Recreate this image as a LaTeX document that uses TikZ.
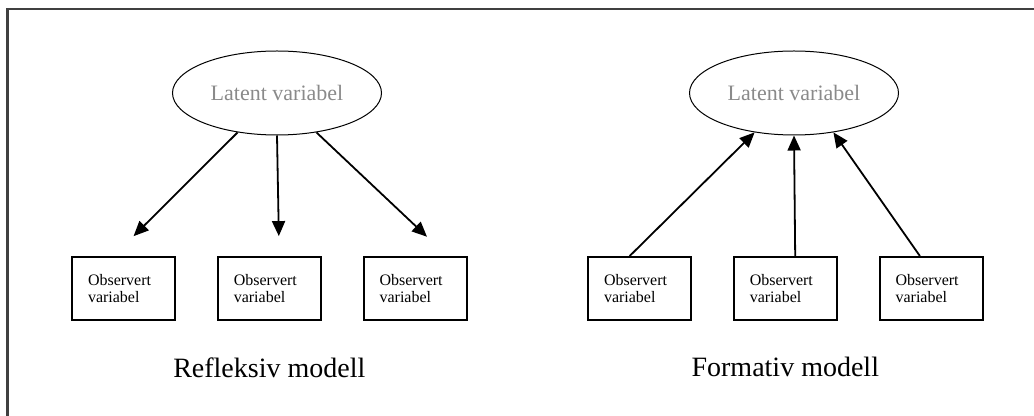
\documentclass[tikz,border=0pt]{standalone}
\usepackage{fontspec}
\setmainfont{Liberation Serif}
\usepackage{xcolor}
\usepackage{tikz}
\usetikzlibrary{positioning, arrows.meta, shapes.geometric}
\definecolor{framegray}{HTML}{404040}
\definecolor{latentgray}{HTML}{8A8A8A}
\tikzset{
  lv node/.style={
    ellipse,
    draw=black,
    line width=0.5pt,
    minimum width=104.5pt,
    minimum height=42pt,
    inner sep=0pt,
    font=\fontsize{11}{13}\selectfont,
    text=latentgray
  },
  mv box/.style={
    rectangle,
    draw=black,
    line width=0.9pt,
    minimum width=51.5pt,
    minimum height=31.5pt,
    text width=35.5pt,
    inner xsep=8pt,
    inner ysep=0pt,
    align=left,
    font=\fontsize{8}{8.5}\selectfont
  },
  lv arrow/.style={
    -{Triangle[length=7.5pt, width=6.5pt]},
    line width=0.9pt,
    color=black
  },
  model title/.style={
    inner sep=0pt,
    font=\fontsize{14}{16}\selectfont
  },
  frame line/.style={draw=framegray, line width=1.2pt}
}

\begin{document}
\begin{tikzpicture}[x=0.5pt, y=-0.5pt]
  \useasboundingbox (0,0) rectangle (1034,416);
  \clip (0,0) rectangle (1034,416);
  \draw[frame line] (7.5,9) rectangle (1050,440);

  % Latent variables
  \node[lv node] (lat1) at (277,93) {Latent variabel};
  \node[lv node] (lat2) at (794,93) {Latent variabel};

  % Observed variables
  \node[mv box] (r1) at (123.5,288.5) {Observert\\variabel};
  \node[mv box, right=20.5pt of r1] (r2) {Observert\\variabel};
  \node[mv box, right=20.5pt of r2] (r3) {Observert\\variabel};

  \node[mv box] (f1) at (639.5,288.5) {Observert\\variabel};
  \node[mv box, right=20.5pt of f1] (f2) {Observert\\variabel};
  \node[mv box, right=20.5pt of f2] (f3) {Observert\\variabel};

  % Paths
  \draw[lv arrow, shorten >=14.1pt] (lat1.225) -- (r1.107);
  \draw[lv arrow, shorten >=10pt] (lat1.south) -- (r2.73);
  \draw[lv arrow, shorten >=14.1pt] (lat1.-45) -- (r3.45);

  \draw[lv arrow] (f1.107) -- (lat2.225);
  \draw[lv arrow] (f2.73) -- (lat2.south);
  \draw[lv arrow] (f3.109) -- (lat2.-45);

  % Titles
  \node[model title, below=18pt of r2] (refl) {Refleksiv modell};
  \node[model title, below=18pt of f2] (form) {Formativ modell};
\end{tikzpicture}
\end{document}
